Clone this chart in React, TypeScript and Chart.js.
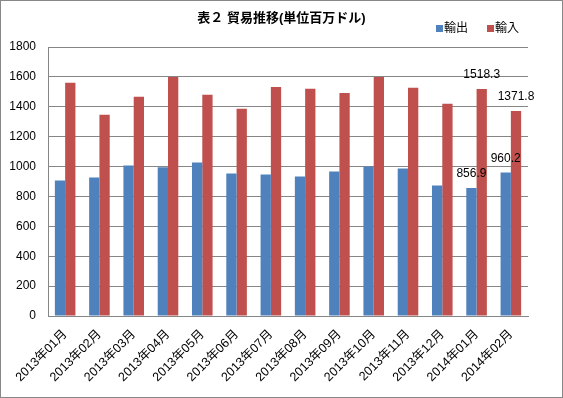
import React, { useEffect, useRef } from "react";
import { Chart, registerables } from "chart.js";

Chart.register(...registerables);

const categories = [
  "2013年01月", "2013年02月", "2013年03月", "2013年04月", "2013年05月", "2013年06月", "2013年07月",
  "2013年08月", "2013年09月", "2013年10月", "2013年11月", "2013年12月", "2014年01月", "2014年02月",
];
const exportsValues = [907, 927, 1007, 996, 1027, 953, 947, 933, 967, 1000, 987, 873, 856.9, 960.2];
const importsValues = [1560, 1347, 1467, 1600, 1480, 1387, 1533, 1520, 1493, 1600, 1527, 1420, 1518.3, 1371.8];
const exportsLabels = [null, null, null, null, null, null, null, null, null, null, null, null, "856.9", "960.2"];
const importsLabels = [null, null, null, null, null, null, null, null, null, null, null, null, "1518.3", "1371.8"];
const seriesNames = ["輸出", "輸入"];
const titleText = "表２ 貿易推移(単位百万ドル)";
const yTicks = { min: 0, max: 1800, step: 200 };

const BLUE = "#4F81BD";
const RED = "#C0504D";
const FONT = "'Liberation Sans', 'Noto Sans CJK JP', sans-serif";

const decorPlugin = {
  id: "decor",
  afterDraw(chart: any) {
    const ctx = chart.ctx;
    ctx.save();
    // frame
    ctx.strokeStyle = "#888888";
    ctx.lineWidth = 1;
    ctx.strokeRect(0.5, 0.5, chart.width - 1, chart.height - 1);
    // title
    ctx.fillStyle = "#000";
    ctx.font = `bold 13px ${FONT}`;
    ctx.textAlign = "center";
    ctx.textBaseline = "middle";
    ctx.fillText(titleText, chart.width / 2, 18);
    // legend
    ctx.font = `12px ${FONT}`;
    ctx.textAlign = "left";
    const colors = [BLUE, RED];
    const xs = [436, 487];
    seriesNames.forEach((n, i) => {
      ctx.fillStyle = colors[i];
      ctx.fillRect(xs[i], 25, 7, 7);
      ctx.fillStyle = "#000";
      ctx.fillText(n, xs[i] + 8, 29);
    });
    // data labels
    const labelSets = [exportsLabels, importsLabels];
    ctx.font = `12px ${FONT}`;
    ctx.textAlign = "center";
    ctx.textBaseline = "middle";
    labelSets.forEach((labels, di) => {
      const meta = chart.getDatasetMeta(di);
      labels.forEach((lab, j) => {
        if (lab == null) return;
        const el = meta.data[j];
        ctx.fillStyle = "#000";
        ctx.fillText(lab, el.x, el.y - 14);
      });
    });
    ctx.restore();
  },
};

export default function App() {
  const ref = useRef<HTMLCanvasElement>(null);
  useEffect(() => {
    document.body.style.margin = "0";
    const chart = new Chart(ref.current!, {
      type: "bar",
      data: {
        labels: categories,
        datasets: [
          { label: seriesNames[0], data: exportsValues, backgroundColor: BLUE, categoryPercentage: 0.6, barPercentage: 1 },
          { label: seriesNames[1], data: importsValues, backgroundColor: RED, categoryPercentage: 0.6, barPercentage: 1 },
        ],
      },
      options: {
        responsive: false,
        animation: false,
        layout: { padding: { top: 47, right: 35, bottom: 0, left: 0 } },
        plugins: { legend: { display: false }, title: { display: false }, tooltip: { enabled: false } },
        scales: {
          x: {
            grid: { display: false, drawTicks: false },
            border: { color: "#868686" },
            ticks: {
              color: "#000",
              font: { family: FONT, size: 12.5 },
              minRotation: 45,
              maxRotation: 45,
              autoSkip: false,
              padding: 11,
            },
            afterFit(scale: any) { scale.height = 82; },
          },
          y: {
            min: yTicks.min,
            max: yTicks.max,
            grid: { color: "#868686", drawTicks: false },
            border: { color: "#868686" },
            ticks: {
              stepSize: yTicks.step,
              color: "#000",
              font: { family: FONT, size: 12 },
              padding: 12,
              callback: (v: any) => String(v),
            },
            afterFit(scale: any) { scale.width = 48; },
          },
        },
      },
      plugins: [decorPlugin],
    });
    return () => chart.destroy();
  }, []);
  return <canvas ref={ref} width={563} height={398} style={{ display: "block", width: 563, height: 398 }} />;
}
